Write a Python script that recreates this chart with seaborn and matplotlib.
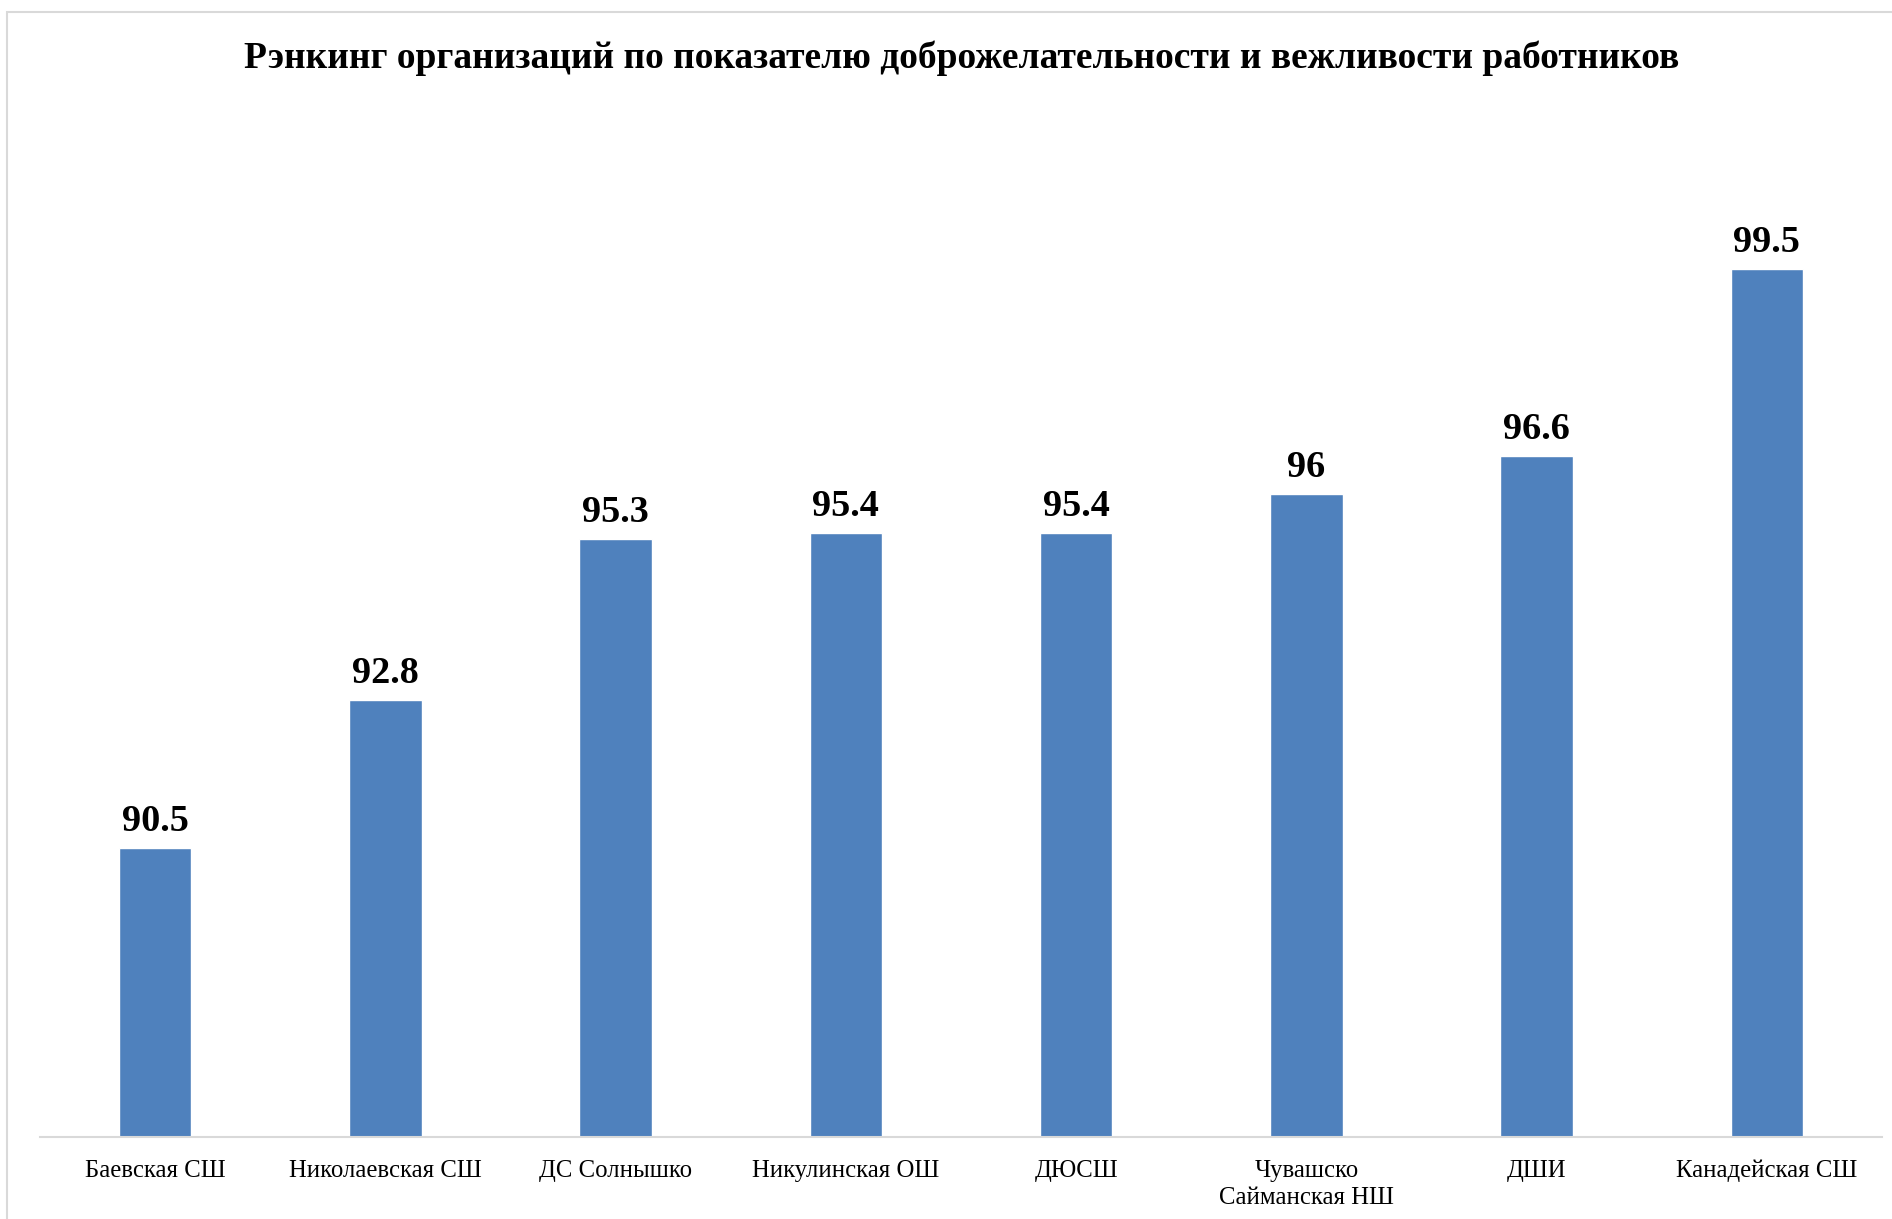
import matplotlib
matplotlib.use("Agg")
import matplotlib.pyplot as plt
import seaborn as sns
import pandas as pd
from matplotlib.patches import Rectangle

categories = ["Баевская СШ", "Николаевская СШ", "ДС Солнышко", "Никулинская ОШ",
              "ДЮСШ", "Чувашско\nСайманская НШ", "ДШИ", "Канадейская СШ"]
values = [90.5, 92.8, 95.3, 95.4, 95.4, 96.0, 96.6, 99.5]
value_labels = ["90.5", "92.8", "95.3", "95.4", "95.4", "96", "96.6", "99.5"]
title = "Рэнкинг организаций по показателю доброжелательности и вежливости работников"

sns.set_theme(style="white")
plt.rcParams['font.family'] = ['Liberation Serif', 'DejaVu Serif']

df = pd.DataFrame({"org": categories, "value": values})

W, H = 1892, 1219
fig = plt.figure(figsize=(W / 100, H / 100), dpi=100)
ax = fig.add_axes([40 / W, 1 - 1137 / H, (1882 - 40) / W, (1137 - 237) / H])

sns.barplot(data=df, x="org", y="value", color="#4F81BD", width=0.314,
            saturation=1, ax=ax)
ax.set_ylim(86, 100)
ax.set_xlim(-0.5, len(categories) - 0.5)

ax.bar_label(ax.containers[0], labels=value_labels, padding=6.5,
             fontsize=27.5, fontweight="bold", color="black")

for s in ["top", "right", "left"]:
    ax.spines[s].set_visible(False)
ax.spines["bottom"].set_color("#D9D9D9")
ax.spines["bottom"].set_linewidth(1.5)
ax.set_yticks([])
ax.set_xlabel("")
ax.set_ylabel("")
ax.tick_params(axis="x", length=0, pad=16.5, labelsize=17.8, colors="black")
for lbl in ax.get_xticklabels():
    lbl.set_linespacing(1.3)

fig.text(962 / W, 1 - 58 / H, title, ha="center", va="center",
         fontsize=27, fontweight="bold", color="black")

fig.patches.append(Rectangle((7 / W, -0.05), 1.2, 1.05 - 12 / H,
                             transform=fig.transFigure, fill=False,
                             edgecolor="#D9D9D9", linewidth=1.5))

fig.savefig("out.png", dpi=100)
